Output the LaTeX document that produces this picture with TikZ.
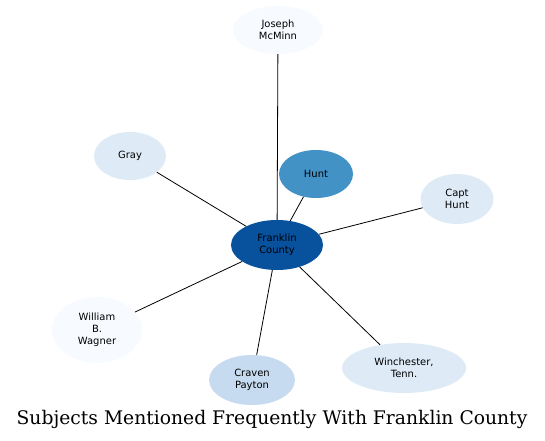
\documentclass[tikz,border=0pt]{standalone}
\usepackage{fontspec}
\usepackage{tikz}
\usetikzlibrary{shapes.geometric}
\newfontfamily\labelfont{DejaVu Sans}
\newfontfamily\titlefont{DejaVu Serif}
\definecolor{BlueA}{HTML}{F7FBFF}
\definecolor{BlueB}{HTML}{DEEBF7}
\definecolor{BlueC}{HTML}{C6DBEF}
\definecolor{BlueD}{HTML}{4292C6}
\definecolor{BlueE}{HTML}{08519C}

\begin{document}
\begin{tikzpicture}[
x=1bp,y=-1bp,
subj/.style={ellipse,draw=none,inner sep=0pt,minimum width=74bp,minimum height=48bp,align=center,font=\labelfont\fontsize{10}{12}\selectfont},
link/.style={draw=black,line width=0.8bp}
]
\useasboundingbox (0,0) rectangle (545,441);
% centre
\node[subj,fill=BlueE,minimum width=92bp,minimum height=50bp] (fc) at (277,245) {Franklin\\County};
% surrounding subjects
\node[subj,fill=BlueA,minimum width=90bp] (jm) at (278,30) {Joseph\\McMinn};
\node[subj,fill=BlueB,minimum width=72bp] (gr) at (130,156) {Gray};
\node[subj,fill=BlueD] (hu) at (316,174) {Hunt};
\node[subj,fill=BlueB,minimum width=73bp,minimum height=50bp] (ch) at (457,199) {Capt\\Hunt};
\node[subj,fill=BlueA,minimum width=90bp,minimum height=66bp] (wb) at (97,330) {William\\B.\\Wagner};
\node[subj,fill=BlueC,minimum width=86bp,minimum height=50bp] (cp) at (252,380) {Craven\\Payton};
\node[subj,fill=BlueB,minimum width=124bp,minimum height=50bp] (wt) at (404,368) {Winchester,\\Tenn.};
% links
\foreach \s in {jm,gr,hu,ch,wb,cp,wt}
  \draw[link] (fc) -- (\s);
% title
\node[font=\titlefont\fontsize{18.8}{22}\selectfont] (title) at (272,419) {Subjects Mentioned Frequently With Franklin County};
\end{tikzpicture}
\end{document}
